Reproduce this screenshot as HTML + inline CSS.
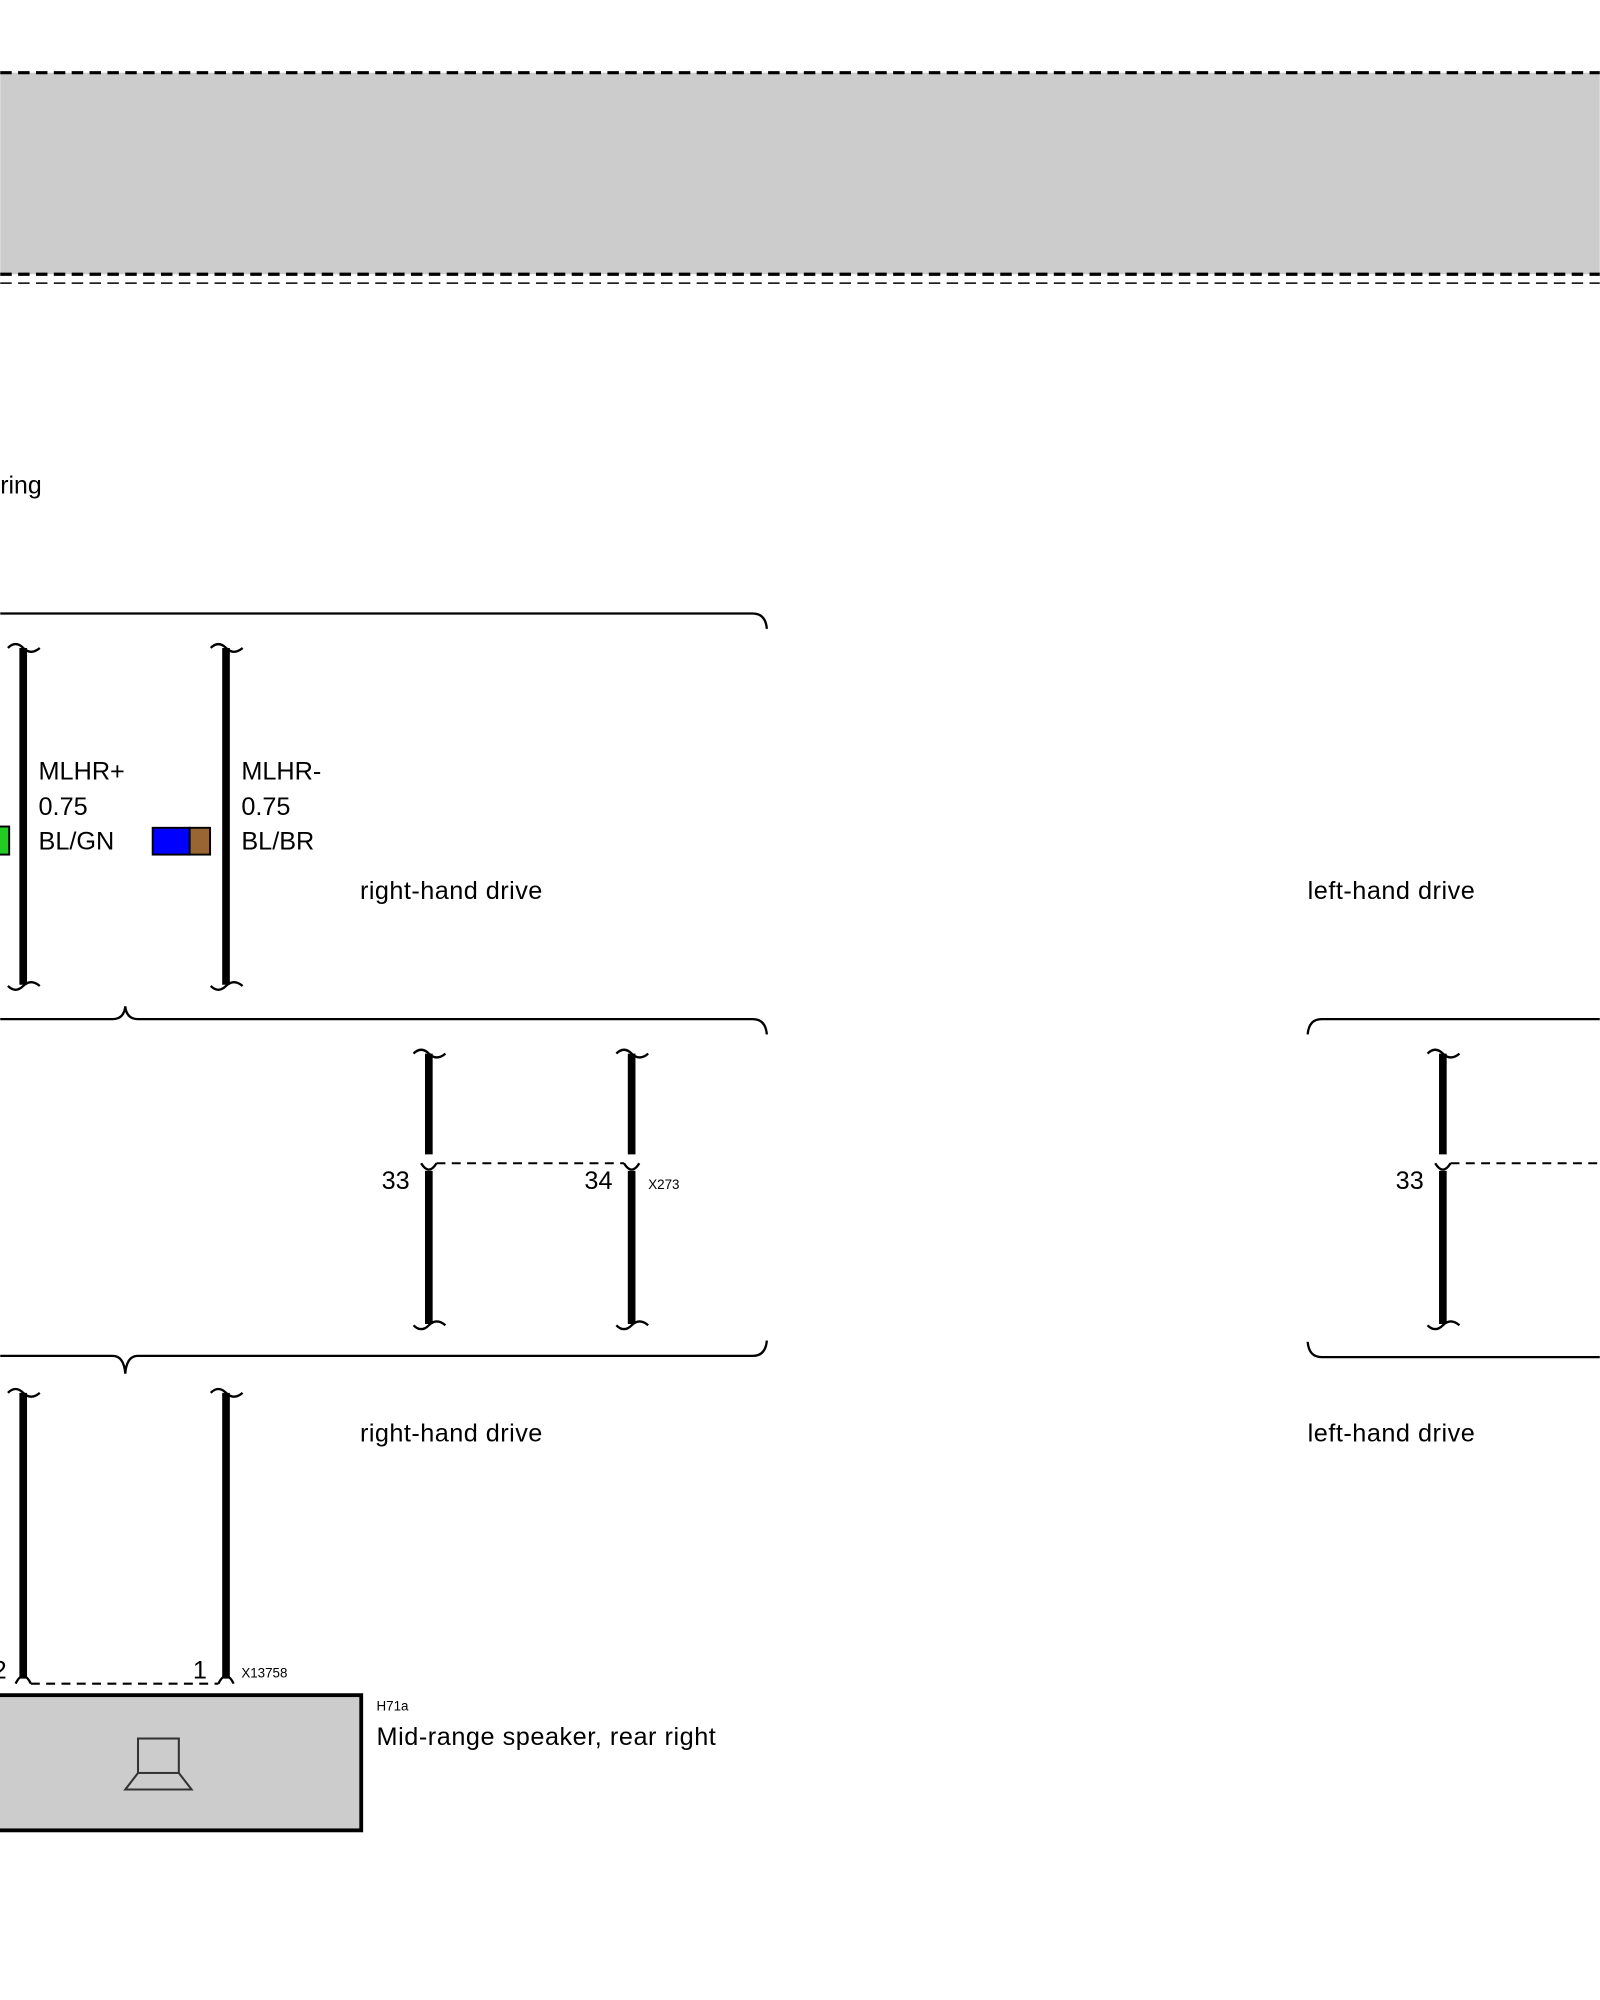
<!DOCTYPE html>
<html><head><meta charset="utf-8"><style>
html,body{margin:0;padding:0;background:#fff;}
svg{display:block;}
text{font-family:"Liberation Sans",Arial,sans-serif;fill:#000;}
</style></head><body>
<svg width="1600" height="2000" viewBox="0 0 1254 1568" xmlns="http://www.w3.org/2000/svg">
<rect x="0" y="57" width="1254" height="158" fill="#cccccc"/>
<line x1="0" y1="57" x2="1254" y2="57" stroke="#000" stroke-width="2.5" stroke-dasharray="9,5"/>
<line x1="0" y1="215" x2="1254" y2="215" stroke="#000" stroke-width="2.5" stroke-dasharray="9,5"/>
<line x1="0" y1="222" x2="1254" y2="222" stroke="#000" stroke-width="1.2" stroke-dasharray="9,5"/>
<text x="0" y="387" font-size="19.5">ring</text>

<g fill="none" stroke="#000" stroke-width="1.8">
<path d="M0 481 H590 Q600 481 601 493"/>
<path d="M0 799 H88 Q97 799 98 789 Q99 799 108 799 H590 Q600 799 601 811"/>
<path d="M0 1063 H88 Q97 1063 98 1077 Q99 1063 108 1063 H590 Q600 1063 601 1051"/>
<path d="M1254 799 H1036 Q1026 799 1025 811"/>
<path d="M1254 1064 H1036 Q1026 1064 1025 1052"/>
</g>

<g stroke="#000" stroke-width="6">
<line x1="18" y1="508" x2="18" y2="772"/>
<line x1="177" y1="508" x2="177" y2="772"/>
<line x1="336" y1="826" x2="336" y2="905"/>
<line x1="336" y1="918" x2="336" y2="1038"/>
<line x1="495" y1="826" x2="495" y2="905"/>
<line x1="495" y1="918" x2="495" y2="1038"/>
<line x1="1131" y1="826" x2="1131" y2="905"/>
<line x1="1131" y1="918" x2="1131" y2="1038"/>
<line x1="18" y1="1092" x2="18" y2="1316"/>
<line x1="177" y1="1092" x2="177" y2="1316"/>
</g>
<g fill="none" stroke="#000" stroke-width="1.8">
<path d="M6 508 Q12 502 18 508 Q24 514 31 508"/>
<path d="M6 773 Q12 779 18 773 Q24 767 31 773"/>
<path d="M165 508 Q171 502 177 508 Q183 514 190 508"/>
<path d="M165 773 Q171 779 177 773 Q183 767 190 773"/>
<path d="M324 826 Q330 820 336 826 Q342 832 349 826"/>
<path d="M324 1039 Q330 1045 336 1039 Q342 1033 349 1039"/>
<path d="M483 826 Q489 820 495 826 Q501 832 508 826"/>
<path d="M483 1039 Q489 1045 495 1039 Q501 1033 508 1039"/>
<path d="M1119 826 Q1125 820 1131 826 Q1137 832 1144 826"/>
<path d="M1119 1039 Q1125 1045 1131 1039 Q1137 1033 1144 1039"/>
<path d="M6 1092 Q12 1086 18 1092 Q24 1098 31 1092"/>
<path d="M165 1092 Q171 1086 177 1092 Q183 1098 190 1092"/>
<path d="M330 912 Q336 922 342 912"/>
<path d="M489 912 Q495 922 501 912"/>
<path d="M1125 912 Q1131 922 1137 912"/>
<path d="M12 1320 Q18 1308 24 1320"/>
<path d="M171 1320 Q177 1308 183 1320"/>
</g>
<g stroke="#000" stroke-width="1.6" stroke-dasharray="7,5">
<line x1="342" y1="912" x2="489" y2="912"/>
<line x1="1137" y1="912" x2="1254" y2="912"/>
<line x1="24" y1="1320" x2="171" y2="1320"/>
</g>

<rect x="-3" y="648" width="10" height="22" fill="#22cc22" stroke="#000" stroke-width="1.5"/>
<rect x="119.5" y="649" width="29" height="21" fill="#0000ff" stroke="#000" stroke-width="1.5"/>
<rect x="148.5" y="649" width="16" height="21" fill="#996633" stroke="#000" stroke-width="1.5"/>

<g font-size="19.8">
<text x="30" y="611">MLHR+</text>
<text x="30" y="639">0.75</text>
<text x="30" y="666">BL/GN</text>
<text x="189" y="611">MLHR-</text>
<text x="189" y="639">0.75</text>
<text x="189" y="666">BL/BR</text>
<text x="282" y="705" textLength="143">right-hand drive</text>
<text x="1025" y="705" textLength="131">left-hand drive</text>
<text x="282" y="1130" textLength="143">right-hand drive</text>
<text x="1025" y="1130" textLength="131">left-hand drive</text>
<text x="299" y="932">33</text>
<text x="458" y="932">34</text>
<text x="1094" y="932">33</text>
<text x="-6" y="1316">2</text>
<text x="151" y="1316">1</text>
<text x="295" y="1368" textLength="266">Mid-range speaker, rear right</text>
</g>
<text x="508" y="932" font-size="10.5">X273</text>
<text x="189" y="1315" font-size="10.5">X13758</text>
<text x="295" y="1341" font-size="10.5">H71a</text>

<rect x="-5" y="1329" width="288" height="106" fill="#cccccc" stroke="#000" stroke-width="3"/>
<g fill="none" stroke="#333" stroke-width="1.6">
<rect x="108" y="1363" width="32" height="27"/>
<path d="M108 1390 L98 1403 H150 L140 1390"/>
</g>
</svg>
</body></html>
